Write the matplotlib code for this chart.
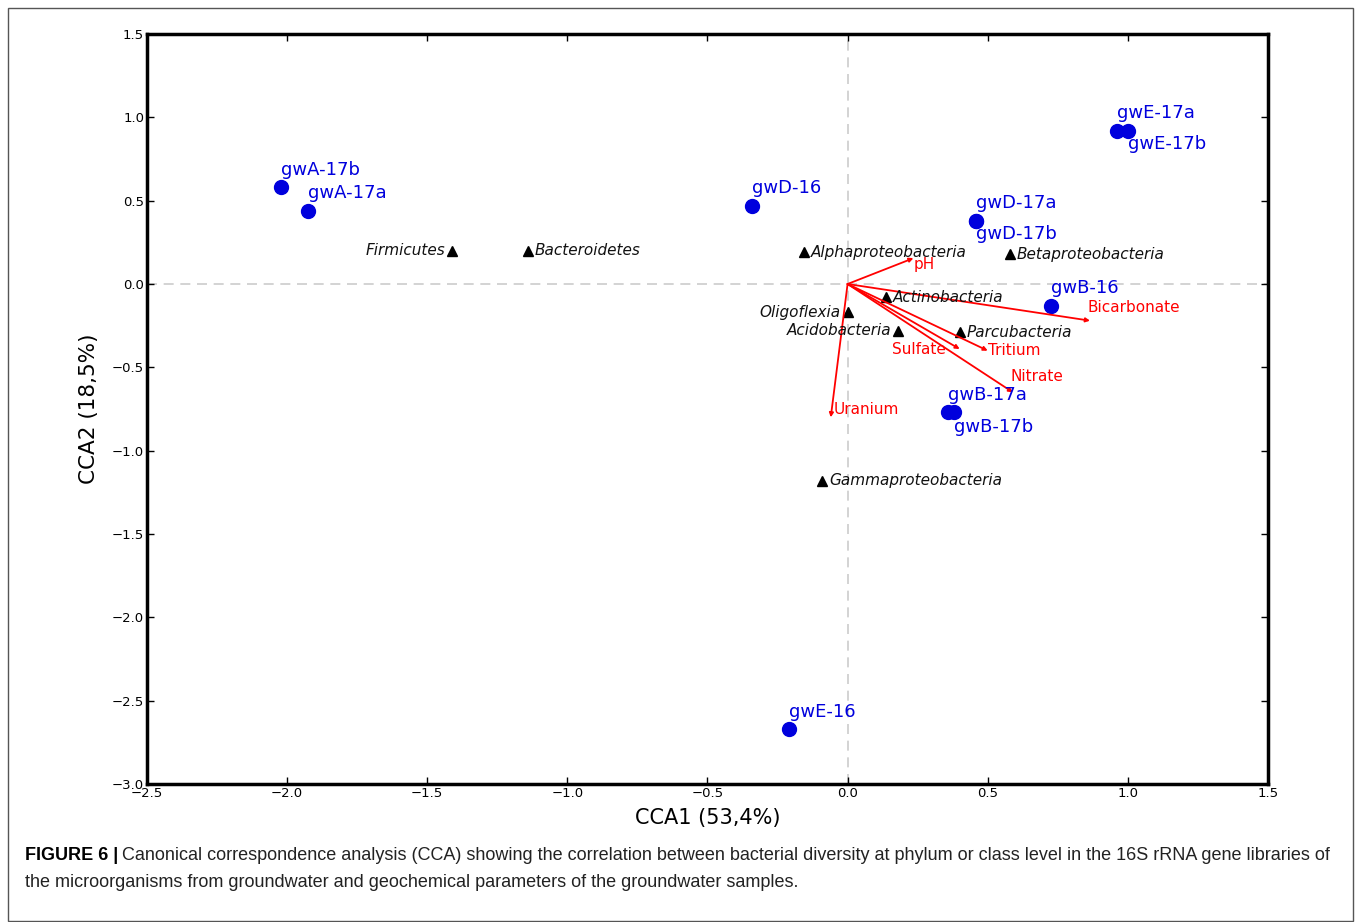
import numpy as np
import matplotlib
matplotlib.use('Agg')
import matplotlib.pyplot as plt
from matplotlib.patches import Rectangle

# samples (sites)
site_names = ['gwA-17b', 'gwA-17a', 'gwD-16', 'gwD-17a', 'gwD-17b', 'gwE-17a', 'gwE-17b',
              'gwB-16', 'gwB-17a', 'gwB-17b', 'gwE-16']
site_x = [-2.02, -1.925, -0.34, 0.46, 0.46, 0.96, 1.0, 0.725, 0.36, 0.38, -0.21]
site_y = [0.58, 0.44, 0.47, 0.38, 0.38, 0.92, 0.92, -0.13, -0.77, -0.77, -2.67]
site_off = [(0, 6), (0, 6), (0, 6), (0, 6), (0, -16), (0, 6), (0, -16), (0, 6), (0, 6), (0, -17), (0, 6)]

# taxa (species scores)
taxa_names = ['Firmicutes', 'Bacteroidetes', 'Alphaproteobacteria', 'Betaproteobacteria',
              'Actinobacteria', 'Oligoflexia', 'Acidobacteria', 'Parcubacteria', 'Gammaproteobacteria']
taxa_x = [-1.41, -1.14, -0.155, 0.58, 0.137, 0.0, 0.18, 0.40, -0.09]
taxa_y = [0.20, 0.20, 0.19, 0.18, -0.08, -0.17, -0.28, -0.29, -1.18]
taxa_left = [True, False, False, False, False, True, True, False, False]

# environmental vectors
env_names = ['pH', 'Bicarbonate', 'Sulfate', 'Tritium', 'Nitrate', 'Uranium']
env_x = [0.235, 0.865, 0.40, 0.50, 0.59, -0.06]
env_y = [0.155, -0.22, -0.39, -0.40, -0.65, -0.80]
env_off = [(0, -10), (-2, 4), (-10, -6), (0, -5), (-2, 6), (2, 0)]
env_ha = ['left', 'left', 'right', 'left', 'left', 'left']

fig = plt.figure(figsize=(13.58, 9.22), dpi=100)
ax = fig.add_axes([0.1082, 0.1497, 0.8255, 0.8134])

ax.axhline(0, color='#cccccc', ls='--', lw=1.2, dashes=(6, 4), zorder=0)
ax.axvline(0, color='#cccccc', ls='--', lw=1.2, dashes=(6, 4), zorder=0)

for i in range(len(env_names)):
    ax.annotate('', xy=(env_x[i], env_y[i]), xytext=(0, 0),
                arrowprops=dict(arrowstyle='-|>', color='red', lw=1.3,
                                mutation_scale=6, shrinkA=0, shrinkB=0))
    ax.annotate(env_names[i], (env_x[i], env_y[i]), xytext=env_off[i],
                textcoords='offset points', color='red', fontsize=11,
                ha=env_ha[i], va='bottom')

ax.plot(taxa_x, taxa_y, '^', color='black', markersize=7, ls='none')
for i in range(len(taxa_names)):
    if taxa_left[i]:
        ax.annotate(taxa_names[i], (taxa_x[i], taxa_y[i]), xytext=(-5, 0),
                    textcoords='offset points', ha='right', va='center',
                    style='italic', fontsize=11, color='#111111')
    else:
        ax.annotate(taxa_names[i], (taxa_x[i], taxa_y[i]), xytext=(5, 0),
                    textcoords='offset points', ha='left', va='center',
                    style='italic', fontsize=11, color='#111111')

ax.plot(site_x, site_y, 'o', color='#0000dd', markersize=10, ls='none')
for i in range(len(site_names)):
    ax.annotate(site_names[i], (site_x[i], site_y[i]), xytext=site_off[i],
                textcoords='offset points', color='#0000dd', fontsize=13,
                ha='left', va='bottom')

ax.set_xlim(-2.5, 1.5)
ax.set_ylim(-3.0, 1.5)
ax.set_xticks(np.arange(-2.5, 1.51, 0.5))
ax.set_yticks(np.arange(-3.0, 1.51, 0.5))
ax.tick_params(direction='in', top=True, right=True, length=5, width=1,
               labelsize=9.5, pad=2)
for s in ax.spines.values():
    s.set_linewidth(2.5)
ax.set_xlabel('CCA1 (53,4%)', fontsize=15, labelpad=6)
ax.set_ylabel('CCA2 (18,5%)', fontsize=15.5, labelpad=9)

# outer frame and caption
fig.patches.append(Rectangle((8 / 1358, 1 / 922), 1345 / 1358, 913 / 922,
                             transform=fig.transFigure, fill=False,
                             edgecolor='#555555', lw=1))
cap_font = ['Liberation Sans Narrow', 'Liberation Sans', 'DejaVu Sans']
t1 = fig.text(25 / 1358, 1 - 855 / 922, 'FIGURE 6 |', fontsize=13, weight='bold',
              family=cap_font, va='center')
fig.canvas.draw()
bb = t1.get_window_extent()
fig.text(bb.x1 / 1358 + 0.003, 1 - 855 / 922,
         'Canonical correspondence analysis (CCA) showing the correlation between bacterial diversity '
         'at phylum or class level in the 16S rRNA gene libraries of',
         fontsize=13, family=cap_font, va='center', color='#222222')
fig.text(25 / 1358, 1 - 882 / 922,
         'the microorganisms from groundwater and geochemical parameters of the groundwater samples.',
         fontsize=13, family=cap_font, va='center', color='#222222')

fig.savefig('out.png', dpi=100)
